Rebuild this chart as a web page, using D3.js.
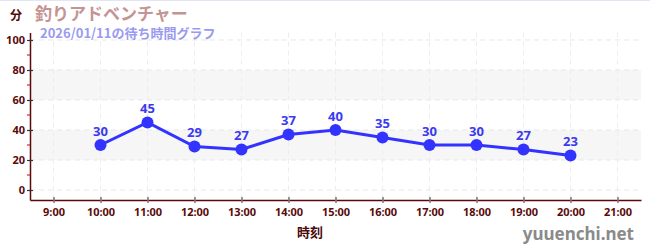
<!DOCTYPE html>
<html>
<head>
<meta charset="utf-8">
<script src="https://cdn.jsdelivr.net/npm/d3@7"></script>
<style>
  body { margin: 0; background: #fff; }
  text { font-family: "Noto Sans CJK JP", "Noto Sans", sans-serif; font-weight: bold; }
</style>
</head>
<body>
<script>
var width = 650,
    height = 250;

var hours = [10, 11, 12, 13, 14, 15, 16, 17, 18, 19, 20];
var waits = [30, 45, 29, 27, 37, 40, 35, 30, 30, 27, 23];
var hourTicks = [9, 10, 11, 12, 13, 14, 15, 16, 17, 18, 19, 20, 21];
var yTicks = [0, 20, 40, 60, 80, 100];
var yMinor = [10, 30, 50, 70, 90];
var bands = [[20, 40], [60, 80]];

var x = d3.scaleLinear().domain([8.5, 21.5]).range([30, 641]);
var y = d3.scaleLinear().domain([-6.67, 105]).range([200, 32.5]);

var svg = d3.select("body").append("svg")
    .attr("width", width)
    .attr("height", height);

// thin top border
svg.append("rect").attr("x", 0).attr("y", 0).attr("width", width).attr("height", 1)
    .attr("fill", "#e2e4f8");

// bands
svg.selectAll(".band")
    .data(bands)
    .enter().append("rect")
      .attr("x", x.range()[0])
      .attr("width", x.range()[1] - x.range()[0])
      .attr("y", function(d) { return y(d[1]); })
      .attr("height", function(d) { return y(d[0]) - y(d[1]); })
      .attr("fill", "#f6f6f6");

// grid
svg.selectAll(".hgrid")
    .data(yTicks)
    .enter().append("line")
      .attr("x1", x.range()[0]).attr("x2", x.range()[1])
      .attr("y1", function(d) { return y(d); }).attr("y2", function(d) { return y(d); })
      .attr("stroke", "#e8e8e8").attr("stroke-dasharray", "5,4");

svg.selectAll(".vgrid")
    .data(hourTicks)
    .enter().append("line")
      .attr("x1", function(d) { return x(d); }).attr("x2", function(d) { return x(d); })
      .attr("y1", y.range()[1]).attr("y2", y.range()[0])
      .attr("stroke", "#ededed").attr("stroke-dasharray", "5,4");

// x axis
var xAxis = d3.axisBottom(x)
    .tickValues(hourTicks)
    .tickFormat(function(d) { return d + ":00"; })
    .tickSize(3)
    .tickSizeOuter(0);

var gx = svg.append("g")
    .attr("transform", "translate(0,200)")
    .call(xAxis);
gx.select(".domain").attr("stroke", "#5a0a0a").attr("stroke-width", 1.5);
gx.selectAll(".tick line").attr("stroke", "#777").attr("y1", -3).attr("stroke-width", 1.5);
gx.selectAll(".tick text")
    .attr("fill", "#5a0a0a")
    .attr("font-size", 11)
    .attr("dy", "0.9em")
    .style("font-family", "Noto Sans, sans-serif");

// y axis
var yAxis = d3.axisLeft(y)
    .tickValues(yTicks)
    .tickSize(3)
    .tickSizeOuter(0);

var gy = svg.append("g")
    .attr("transform", "translate(30,0)")
    .call(yAxis);
gy.select(".domain").attr("stroke", "#5a0a0a").attr("stroke-width", 1.5);
gy.selectAll(".tick line").attr("stroke", "#333").attr("x2", 3).attr("x1", -3).attr("stroke-width", 1.2);
gy.selectAll(".tick text")
    .attr("fill", "#5a0a0a")
    .attr("font-size", 11)
    .attr("x", -5)
    .style("font-family", "Noto Sans, sans-serif");

gy.selectAll(".minor")
    .data(yMinor)
    .enter().append("line")
      .attr("x1", -3).attr("x2", 0)
      .attr("y1", function(d) { return y(d); }).attr("y2", function(d) { return y(d); })
      .attr("stroke", "#dd2222").attr("stroke-width", 1.2);

// line
var line = d3.line()
    .x(function(d, i) { return x(hours[i]); })
    .y(function(d) { return y(d); });

svg.append("path")
    .datum(waits)
    .attr("d", line)
    .attr("fill", "none")
    .attr("stroke", "#3333ff")
    .attr("stroke-width", 3);

svg.selectAll(".dot")
    .data(waits)
    .enter().append("circle")
      .attr("cx", function(d, i) { return x(hours[i]); })
      .attr("cy", function(d) { return y(d); })
      .attr("r", 6)
      .attr("fill", "#3333ff");

svg.selectAll(".lbl")
    .data(waits)
    .enter().append("text")
      .attr("x", function(d, i) { return x(hours[i]); })
      .attr("y", function(d) { return y(d) - 9; })
      .attr("text-anchor", "middle")
      .attr("font-size", 13)
      .attr("fill", "#3a3af0")
      .style("font-family", "Noto Sans, sans-serif")
      .text(function(d) { return d; });

// titles
svg.append("text").attr("x", 10).attr("y", 20)
    .attr("font-size", 12).attr("fill", "#4a0a0a").text("分");
svg.append("text").attr("x", 35).attr("y", 20)
    .attr("font-size", 17).attr("fill", "#c49494").text("釣りアドベンチャー");
svg.append("text").attr("x", 40).attr("y", 38)
    .attr("font-size", 13).attr("fill", "#9a9af0").text("2026/01/11の待ち時間グラフ");

svg.append("text").attr("x", 310).attr("y", 237)
    .attr("text-anchor", "middle")
    .attr("font-size", 13).attr("fill", "#4a0a0a").text("時刻");

svg.append("text").attr("x", 634).attr("y", 240)
    .attr("text-anchor", "end")
    .attr("font-size", 17).attr("fill", "#8a8a8a")
    .style("font-family", "Noto Sans, sans-serif")
    .text("yuuenchi.net");
</script>
</body>
</html>
